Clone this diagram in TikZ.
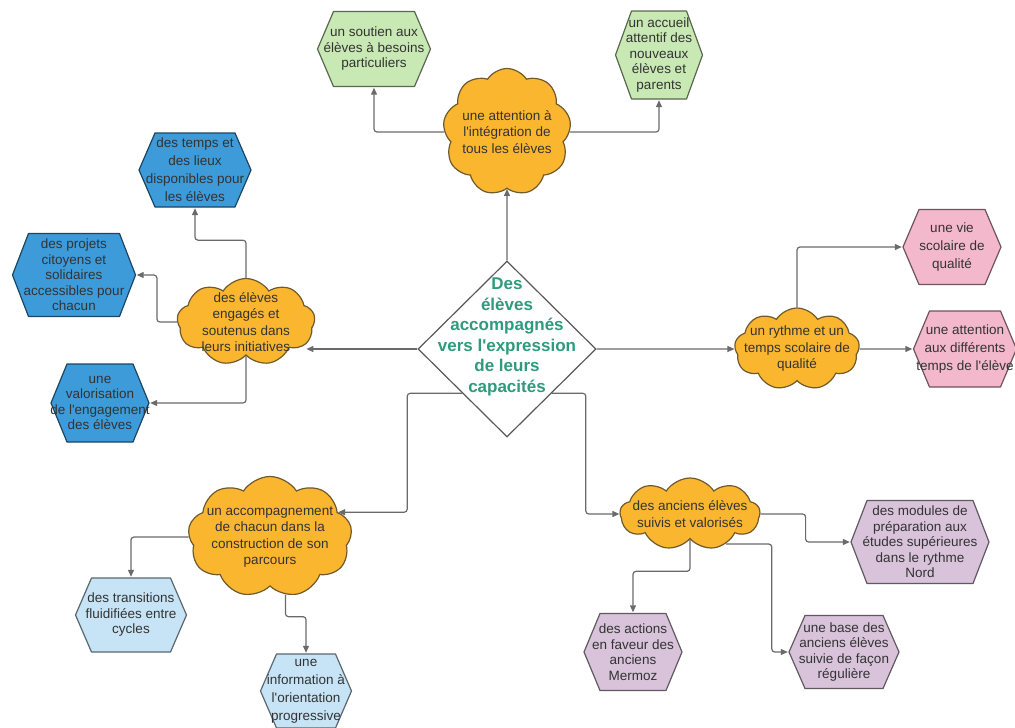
\documentclass[tikz,border=0pt]{standalone}
\usepackage{fontspec}
\setmainfont{Liberation Sans}[Ligatures=TeXOff]
\usetikzlibrary{positioning}
\usetikzlibrary{arrows.meta}
\usetikzlibrary{shapes.geometric}
\usetikzlibrary{shapes.symbols}

\definecolor{hubgreen}{HTML}{2F9A7E}
\definecolor{cloudfill}{HTML}{FBB630}
\definecolor{cloudline}{HTML}{6E5A2C}
\definecolor{linkgrey}{HTML}{6A6A6A}
\definecolor{txtgrey}{HTML}{333333}
\definecolor{hgreen}{HTML}{C8E8B4}
\definecolor{hblue}{HTML}{3D9BDA}
\definecolor{hsky}{HTML}{C6E4F6}
\definecolor{hpink}{HTML}{F3B8CC}
\definecolor{hmauve}{HTML}{D8C3DA}

\tikzset{
  hub/.style={diamond, draw=black!65, line width=1.2pt, fill=white,
    minimum width=178pt, minimum height=176pt, inner sep=0pt},
  hubtext/.style={align=center, inner sep=0pt, text=hubgreen,
    font=\fontsize{17}{20.5}\selectfont\bfseries},
  idea/.style={cloud, cloud puffs=9, cloud puff arc=115, cloud ignores aspect,
    draw=cloudline, fill=cloudfill, line width=1.2pt, inner sep=-20pt,
    align=center, text=txtgrey, font=\fontsize{13.5}{16.5}\selectfont},
  hexa/.style={inner sep=0pt, align=center, text=txtgrey,
    font=\fontsize{13.5}{15.5}\selectfont,
    path picture={
      \draw[fill=#1, draw=#1!45!black, line width=1.2pt, line join=round]
        ([xshift=1pt]path picture bounding box.west)
        -- ([shift={(17pt,-1pt)}]path picture bounding box.north west)
        -- ([shift={(-17pt,-1pt)}]path picture bounding box.north east)
        -- ([xshift=-1pt]path picture bounding box.east)
        -- ([shift={(-17pt,1pt)}]path picture bounding box.south east)
        -- ([shift={(17pt,1pt)}]path picture bounding box.south west) -- cycle;
    }},
  wide/.style={font=\fontsize{13.5}{18}\selectfont},
  link/.style={draw=linkgrey, line width=1.2pt, rounded corners=3pt,
    -{Triangle[length=7pt,width=6pt]}},
}

\begin{document}
\begin{tikzpicture}[x=1pt, y=1pt, on grid]
\useasboundingbox (0,0) rectangle (1015,-728);

\node[hub] (hub) at (507,-349) {};
\node[hubtext] (title) at ([yshift=12pt]hub.center) {Des\\élèves\\accompagnés\\vers l'expression\\de leurs\\capacités};

% integration
\node[idea, minimum width=128pt, minimum height=127pt, above=217pt of hub] (attn) {une attention à\\l'intégration de\\tous les élèves};
\node[hexa=hgreen, minimum width=115pt, minimum height=77pt, above left=83pt and 133pt of attn] (soutien) {un soutien aux\\élèves à besoins\\particuliers};
\node[hexa=hgreen, minimum width=89pt, minimum height=90pt, above right=77pt and 152pt of attn] (accueil) {un accueil\\attentif des\\nouveaux\\élèves et\\parents};

% engagement
\node[idea, minimum width=138pt, minimum height=87pt, above left=27pt and 261pt of hub] (engage) {des élèves\\engagés et\\soutenus dans\\leurs initiatives};
\node[hexa=hblue, wide, minimum width=114pt, minimum height=76pt, above left=152pt and 51pt of engage] (temps) {des temps et\\des lieux\\disponibles pour\\les élèves};
\node[hexa=hblue, minimum width=125pt, minimum height=85pt, above left=47pt and 172pt of engage] (projets) {des projets\\citoyens et\\solidaires\\accessibles pour\\chacun};
\node[hexa=hblue, minimum width=100pt, minimum height=80pt, below left=81pt and 146pt of engage] (valor) {une\\valorisation\\de l'engagement\\des élèves};

% rythme
\node[idea, minimum width=125pt, minimum height=82pt, right=290pt of hub] (rythme) {un rythme et un\\temps scolaire de\\qualité};
\node[hexa=hpink, wide, minimum width=100pt, minimum height=77pt, above right=102pt and 155pt of rythme] (vie) {une vie\\scolaire de\\qualité};
\node[hexa=hpink, wide, minimum width=105pt, minimum height=78pt, right=168pt of rythme] (tempsel) {une attention\\aux différents\\temps de l'élève};

% parcours
\node[idea, minimum width=164pt, minimum height=121pt, below left=188pt and 237pt of hub] (accomp) {un accompagnement\\de chacun dans la\\construction de son\\parcours};
\node[hexa=hsky, minimum width=113pt, minimum height=76pt, below left=78pt and 139pt of accomp] (trans) {des transitions\\fluidifiées entre\\cycles};
\node[hexa=hsky, wide, minimum width=93pt, minimum height=76pt, below right=154pt and 36pt of accomp] (info) {une\\information à\\l'orientation\\progressive};

% anciens
\node[idea, minimum width=140pt, minimum height=72pt, below right=165pt and 183pt of hub] (anciens) {des anciens élèves\\suivis et valorisés};
\node[hexa=hmauve, minimum width=140pt, minimum height=85pt, below right=28pt and 230pt of anciens] (modules) {des modules de\\préparation aux\\études supérieures\\dans le rythme\\Nord};
\node[hexa=hmauve, minimum width=100pt, minimum height=79pt, below left=138pt and 57pt of anciens] (actions) {des actions\\en faveur des\\anciens\\Mermoz};
\node[hexa=hmauve, minimum width=112pt, minimum height=75pt, below right=138pt and 154pt of anciens] (base) {une base des\\anciens élèves\\suivie de façon\\régulière};

\draw[link] (hub) -- (attn);
\draw[link] (attn.west) -| (soutien.south);
\draw[link] (attn.east) -| (accueil.south);
\draw[link] (hub.west) -- (engage.-20 |- hub.west);
\draw[link] (engage.north) |- ([yshift=-32pt]temps.south) -- (temps.south);
\draw[link] (engage.west) -- ++(-20pt,0) |- (projets.east);
\draw[link] (engage.south) |- (valor.east);
\draw[link] (hub.east) -- (rythme.west);
\draw[link] (rythme.north) |- (vie.west);
\draw[link] (rythme.east) -- (tempsel.west);
\draw[link] (hub.south west) -- ++(-55pt,0) |- (accomp.20);
\draw[link] (accomp.west) -| (trans.north);
\draw[link] (accomp.-75) -- ++(0,-22pt) -| (info.north);
\draw[link] (hub.south east) -- ++(34pt,0) |- (anciens.west);
\draw[link] (anciens.east) -- ++(45pt,0) |- (modules.west);
\draw[link] (anciens.south) -- ++(0,-32pt) -| (actions.north);
\draw[link] (anciens.-40) -| ([xshift=-16pt]base.west) -- (base.west);
\end{tikzpicture}
\end{document}
